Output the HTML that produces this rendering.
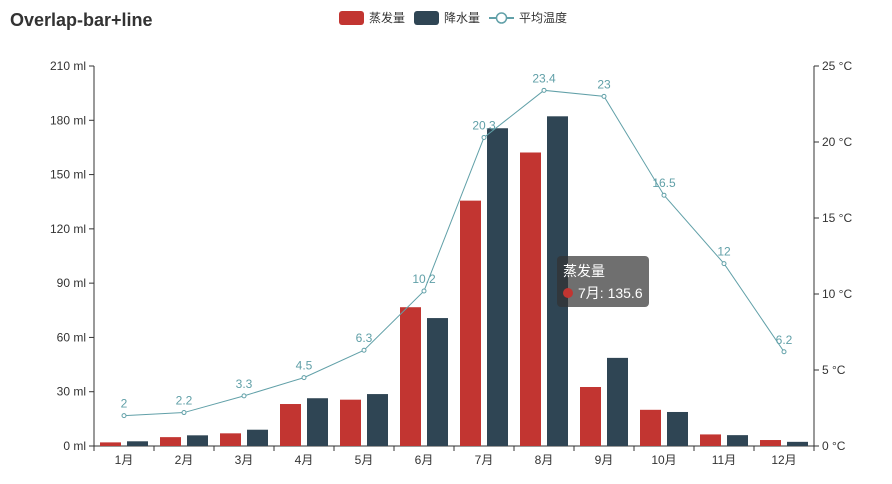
<!DOCTYPE html>
<html><head><meta charset="utf-8"><style>
body{margin:0;background:#fff;}
svg{font-family:"Liberation Sans","Noto Sans CJK SC",sans-serif;display:block}
</style></head><body>
<svg id="c" width="892" height="484">
<text x="10" y="26" font-size="18" font-weight="bold" fill="#333">Overlap-bar+line</text>
<g>
<g><rect x="339" y="11" width="25" height="14" rx="3" fill="#c23531"/><text x="369" y="22" font-size="12" fill="#333">蒸发量</text></g>
<g><rect x="414" y="11" width="25" height="14" rx="3" fill="#2f4554"/><text x="444" y="22" font-size="12" fill="#333">降水量</text></g>
<g><line x1="489" y1="18" x2="514" y2="18" stroke="#61a0a8" stroke-width="2"/><circle cx="501.5" cy="18" r="5" fill="#fff" stroke="#61a0a8" stroke-width="1.5"/><text x="519" y="22" font-size="12" fill="#333">平均温度</text></g>
</g>
<g id="axes"></g><g id="bars"></g><g id="line"></g>
<g>
<rect x="557" y="256" width="92" height="51" rx="4" fill="rgba(50,50,50,0.7)"/>
<text x="563" y="276" font-size="14" fill="#fff">蒸发量</text>
<circle cx="568" cy="293" r="5" fill="#c23531"/>
<text x="578" y="298" font-size="14" fill="#fff">7月: 135.6</text>
</g>
</svg>
<script>
const categories=['1月','2月','3月','4月','5月','6月','7月','8月','9月','10月','11月','12月'];
const evaporation=[2.0,4.9,7.0,23.2,25.6,76.7,135.6,162.2,32.6,20.0,6.4,3.3];
const precipitation=[2.6,5.9,9.0,26.4,28.7,70.7,175.6,182.2,48.7,18.8,6.0,2.3];
const temperature=[2.0,2.2,3.3,4.5,6.3,10.2,20.3,23.4,23.0,16.5,12.0,6.2];
const leftTicks=[0,30,60,90,120,150,180,210];
const rightTicks=[0,5,10,15,20,25];
const NS='http://www.w3.org/2000/svg';
const X0=94,X1=814,Y0=446,Y1=66;
const bw=(X1-X0)/categories.length;
const yL=v=>Y0-(v/210)*(Y0-Y1);
const yR=v=>Y0-(v/25)*(Y0-Y1);
const xC=i=>X0+bw*(i+0.5);
function mk(tag,attrs,parent,txt){const e=document.createElementNS(NS,tag);for(const k in attrs)e.setAttribute(k,attrs[k]);if(txt!==undefined)e.textContent=txt;document.getElementById(parent).appendChild(e);return e;}
// axes
let e=mk('line',{x1:X0,y1:Y0,x2:X1,y2:Y0,stroke:'#333'},'axes');


e=mk('line',{x1:X0,y1:Y0,x2:X0,y2:Y1,stroke:'#333'},'axes');


e=mk('line',{x1:X1,y1:Y0,x2:X1,y2:Y1,stroke:'#333'},'axes');


leftTicks.forEach(v=>{const y=yL(v);mk('line',{x1:X0-5,y1:y,x2:X0,y2:y,stroke:'#333'},'axes');
e=mk('text',{x:X0-8,y:y+4,'font-size':12,fill:'#333','text-anchor':'end'},'axes',v+' ml');

});
rightTicks.forEach(v=>{const y=yR(v);mk('line',{x1:X1,y1:y,x2:X1+5,y2:y,stroke:'#333'},'axes');
e=mk('text',{x:X1+8,y:y+4,'font-size':12,fill:'#333'},'axes',v+' °C');

});
categories.forEach((c,i)=>{mk('line',{x1:X0+bw*i,y1:Y0,x2:X0+bw*i,y2:Y0+5,stroke:'#333'},'axes');
e=mk('text',{x:xC(i),y:Y0+18,'font-size':12,fill:'#333','text-anchor':'middle'},'axes',c);

});
mk('line',{x1:X1,y1:Y0,x2:X1,y2:Y0+5,stroke:'#333'},'axes');
// bars
categories.forEach((c,i)=>{const s=X0+bw*i;
let r=mk('rect',{x:s+6,y:yL(evaporation[i]),width:21,height:Y0-yL(evaporation[i]),fill:'#c23531'},'bars');


r=mk('rect',{x:s+33,y:yL(precipitation[i]),width:21,height:Y0-yL(precipitation[i]),fill:'#2f4554'},'bars');

});
// line
e=mk('polyline',{points:temperature.map((v,i)=>xC(i)+','+yR(v)).join(' '),fill:'none',stroke:'#61a0a8','stroke-width':1},'line');


temperature.forEach((v,i)=>{
let p=mk('circle',{cx:xC(i),cy:yR(v),r:2,fill:'#fff',stroke:'#61a0a8'},'line');


let t=mk('text',{x:xC(i),y:yR(v)-8,'font-size':12,fill:'#61a0a8','text-anchor':'middle'},'line',String(v));

});
</script>
</body></html>
